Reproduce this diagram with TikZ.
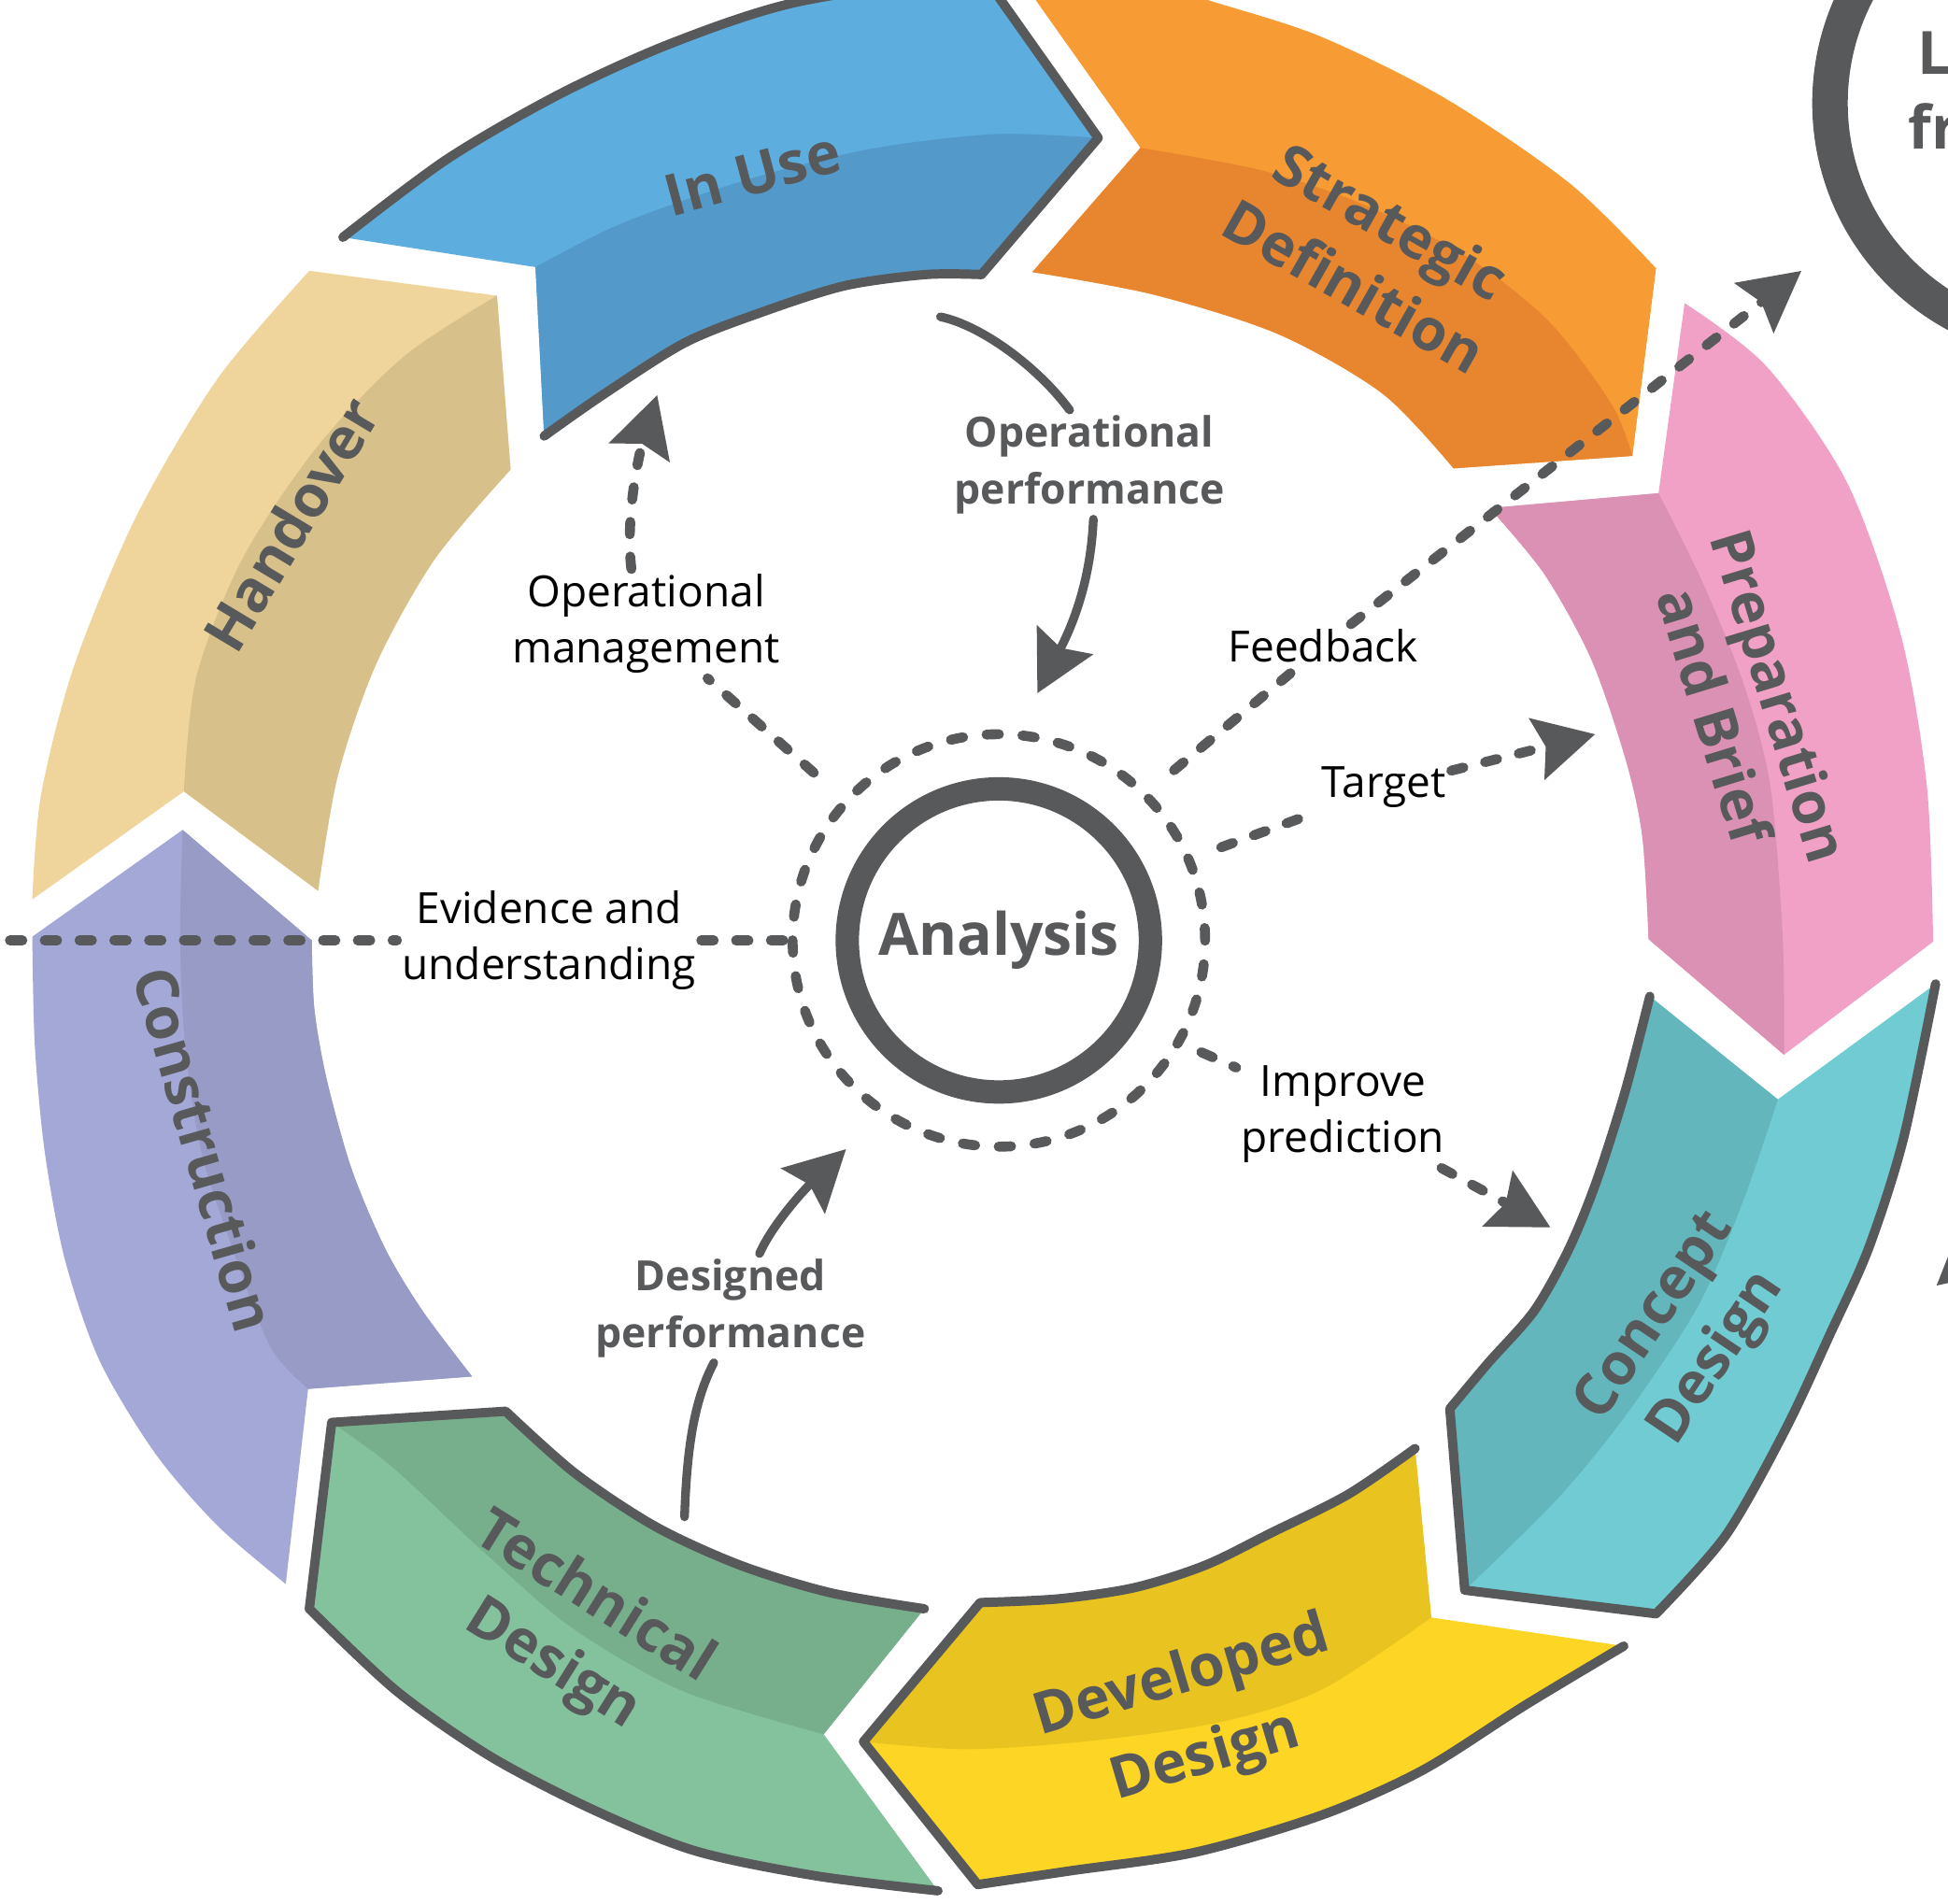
\documentclass[tikz,border=0pt]{standalone}
\usepackage{fontspec}
\setmainfont{Open Sans}
\usetikzlibrary{arrows.meta}
\definecolor{dgray}{HTML}{58595B}
\definecolor{tanL}{HTML}{EFD59B}\definecolor{tanD}{HTML}{D8C08B}
\definecolor{bluL}{HTML}{5DADDF}\definecolor{bluD}{HTML}{5399C9}
\definecolor{orL}{HTML}{F79C34}\definecolor{orD}{HTML}{E8862F}
\definecolor{piL}{HTML}{F1A1C6}\definecolor{piD}{HTML}{DA91B3}
\definecolor{teL}{HTML}{70CBD3}\definecolor{teD}{HTML}{64B6BD}
\definecolor{yeL}{HTML}{FDD524}\definecolor{yeD}{HTML}{E9C31F}
\definecolor{grL}{HTML}{84C29D}\definecolor{grD}{HTML}{77AE8C}
\definecolor{puL}{HTML}{A3A8D6}\definecolor{puD}{HTML}{979BC5}
\begin{document}
\begin{tikzpicture}[x=1pt,y=-1pt,
  seglbl/.style={font=\fontsize{46.6}{#1}\selectfont\bfseries, text=dgray, inner sep=0pt, align=center},
  seglbl/.default=56,
  lbl/.style={font=\fontsize{34.6}{45}\selectfont, text=black, align=center, inner sep=4pt},
  blbl/.style={font=\fontsize{33.5}{46}\selectfont\bfseries, text=dgray, align=center, inner sep=4pt},
  solidconn/.style={draw=dgray, line width=7pt, line cap=round},
  dashconn/.style={draw=dgray, line width=8pt, line cap=round, dash pattern=on 10pt off 18pt},
  tipst/.style={-{Stealth[length=48pt,width=50pt,inset=7pt]}},
  outl/.style={draw=dgray, line width=7.5pt, line join=round, line cap=round},
]
\fill[white] (0,0) rectangle (1568,1532);
\useasboundingbox (0,0) rectangle (1568,1532);

% ---------- Handover ----------
\fill[tanL] (26,724) -- (148,637) -- plot[smooth] coordinates {(256,717) (272,624) (303,534) (350,450) (411,378)} -- (400,238) -- plot[smooth] coordinates {(249,218) (175,305) (110,415) (60,535) (33,640) (26,724)} -- cycle;
\fill[tanD] (148,637) -- plot[smooth] coordinates {(148,637) (158,545) (195,450) (255,360) (325,287) (400,238)} -- plot[smooth] coordinates {(411,378) (350,450) (303,534) (272,624) (256,717)} -- cycle;

% ---------- In Use ----------
\fill[bluL] (276,191) -- (431,215) -- plot[smooth] coordinates {(438,351) (485,318) (551,276) (614,251) (680,230) (745,221) (790,221)} -- (884,111) -- plot[smooth] coordinates {(790,-22) (640,2) (540,35) (450,76) (360,128) (276,191)} -- cycle;
\fill[bluD] (431,215) -- plot[smooth] coordinates {(431,215) (500,180) (600,145) (700,120) (800,108) (884,111)} -- plot[smooth] coordinates {(790,221) (745,221) (680,230) (614,251) (551,276) (485,318) (438,351)} -- cycle;
\draw[outl] plot[smooth] coordinates {(438,351) (485,318) (551,276) (614,251) (680,230) (745,221) (790,221)} -- (884,111) -- plot[smooth] coordinates {(790,-22) (640,2) (540,35) (450,76) (360,128) (276,191)};

% ---------- Strategic Definition ----------
\fill[orL] (818,-22) -- (918,119) -- plot[smooth] coordinates {(831,219) (928,237) (1029,269) (1113,317) (1170,377)} -- (1314,367) -- plot[smooth] coordinates {(1333,216) (1264,148) (1163,79) (1062,29) (972,0) (935,-12)} -- cycle;
\fill[orD] (918,119) -- plot[smooth] coordinates {(918,119) (1015,137) (1096,164) (1180,206) (1247,259) (1297,325) (1314,367)} -- plot[smooth] coordinates {(1170,377) (1113,317) (1029,269) (928,237) (831,219)} -- cycle;

% ---------- Preparation and Brief ----------
\fill[piL] (1356,244) -- (1335,397) -- plot[smooth] coordinates {(1199,409) (1243,462) (1281,531) (1309,613) (1322,674) (1327,756)} -- (1436,849) -- plot[smooth] coordinates {(1556,758) (1551,633) (1530,511) (1487,389) (1422,295) (1356,244)} -- cycle;
\fill[piD] (1335,397) -- plot[smooth] coordinates {(1335,397) (1371,470) (1404,552) (1425,633) (1435,756) (1436,849)} -- plot[smooth] coordinates {(1327,756) (1322,674) (1309,613) (1281,531) (1243,462) (1199,409)} -- cycle;

% ---------- Concept Design ----------
\fill[teL] (1558,792) -- (1431,885) -- plot[smooth] coordinates {(1328,802) (1308,879) (1285,951) (1263,1005) (1235,1055) (1198,1097) (1167,1134)} -- (1179,1280) -- plot[smooth] coordinates {(1333,1299) (1389,1236) (1437,1151) (1473,1074) (1504,1005) (1532,917) (1558,792)} -- cycle;
\fill[teD] (1431,885) -- plot[smooth] coordinates {(1431,885) (1403,967) (1367,1051) (1311,1136) (1255,1205) (1179,1280)} -- plot[smooth] coordinates {(1167,1134) (1198,1097) (1235,1055) (1263,1005) (1285,951) (1308,879) (1328,802)} -- cycle;
\draw[outl] plot[smooth] coordinates {(1328,802) (1308,879) (1285,951) (1263,1005) (1235,1055) (1198,1097) (1167,1134)} -- (1179,1280) -- plot[smooth] coordinates {(1333,1299) (1389,1236) (1437,1151) (1473,1074) (1504,1005) (1532,917) (1558,792)};

% ---------- Developed Design ----------
\fill[yeL] (1307,1325) -- (1152,1302) -- plot[smooth] coordinates {(1139,1166) (1085,1203) (1023,1234) (970,1260) (913,1278) (852,1287) (789,1290)} -- (695,1402) -- plot[smooth] coordinates {(787,1517) (861,1506) (962,1491) (1064,1461) (1145,1425) (1227,1373) (1307,1325)} -- cycle;
\fill[yeD] (1152,1302) -- plot[smooth] coordinates {(1152,1302) (1064,1360) (983,1386) (881,1401) (779,1408) (695,1402)} -- plot[smooth] coordinates {(789,1290) (852,1287) (913,1278) (970,1260) (1023,1234) (1085,1203) (1139,1166)} -- cycle;
\draw[outl] plot[smooth] coordinates {(1139,1166) (1085,1203) (1023,1234) (970,1260) (913,1278) (852,1287) (789,1290)} -- (695,1402) -- plot[smooth] coordinates {(787,1517) (861,1506) (962,1491) (1064,1461) (1145,1425) (1227,1373) (1307,1325)};

% ---------- Technical Design ----------
\fill[grL] (755,1522) -- (663,1396) -- plot[smooth] coordinates {(744,1295) (668,1282) (596,1260) (528,1229) (463,1186) (407,1136)} -- (267,1145) -- plot[smooth] coordinates {(249,1295) (319,1361) (395,1414) (478,1457) (560,1490) (657,1510) (755,1522)} -- cycle;
\fill[grD] (663,1396) -- plot[smooth] coordinates {(663,1396) (549,1361) (460,1310) (388,1248) (316,1181) (267,1145)} -- plot[smooth] coordinates {(407,1136) (463,1186) (528,1229) (596,1260) (668,1282) (744,1295)} -- cycle;
\draw[outl] plot[smooth] coordinates {(744,1295) (668,1282) (596,1260) (528,1229) (463,1186) (407,1136)} -- (267,1145) -- plot[smooth] coordinates {(249,1295) (319,1361) (395,1414) (478,1457) (560,1490) (657,1510) (755,1522)};

% ---------- Construction ----------
\fill[puL] (230,1275) -- (248,1118) -- plot[smooth] coordinates {(380,1108) (340,1055) (310,1005) (283,941) (263,869) (253,812) (251,757)} -- (147,668) -- plot[smooth] coordinates {(26,754) (28,841) (36,927) (52,1013) (80,1095) (125,1170) (175,1228) (230,1275)} -- cycle;
\fill[puD] (248,1118) -- plot[smooth] coordinates {(248,1118) (218,1085) (190,1013) (162,927) (149,841) (145,754) (147,668)} -- plot[smooth] coordinates {(251,757) (253,812) (263,869) (283,941) (310,1005) (340,1055) (380,1108)} -- cycle;

% ---------- segment labels ----------
\node[seglbl, rotate=59] (tHand) at (234,422) {Handover};
\node[seglbl, rotate=15] (tUse) at (606,140) {In Use};
\node[seglbl=60, rotate=-29.5] (tStr) at (1105,204) {Strategic\\Definition};
\node[seglbl=55, rotate=-73] (tPrep) at (1407,568) {Preparation\\and Brief};
\node[seglbl=60, rotate=56] (tCon) at (1358,1077) {Concept\\Design};
\node[seglbl=67, rotate=16.5] (tDev) at (961,1383) {Developed\\Design};
\node[seglbl=63, rotate=-32] (tTech) at (461,1314) {Technical\\Design};
\node[seglbl, rotate=-74] (tConstr) at (165,925) {Construction};

% ---------- top-right partial ring ----------
\node[circle, draw=dgray, line width=28.6pt, minimum size=386pt, inner sep=0pt] (lfring) at (1666,83) {};
\node[anchor=base west, inner sep=0pt, font=\fontsize{48}{58}\selectfont\bfseries, text=dgray] (lf1) at (1543,60) {Le};
\node[anchor=base west, inner sep=0pt, font=\fontsize{48}{58}\selectfont\bfseries, text=dgray] (lf2) at (1536,120) {fr};
\fill[dgray] (1558.8,1034.8) -- (1580,981) -- (1585,1029) -- cycle;

% ---------- centre ----------
\node[circle, draw=dgray, line width=18.8pt, minimum size=244pt, inner sep=0pt, text=dgray,
      font=\fontsize{47}{56}\selectfont\bfseries] (an) at (804,757) {Analysis};
\node[circle, draw=dgray, line width=8pt, line cap=round, dash pattern=on 10pt off 18.97pt,
      minimum size=332pt, inner sep=0pt] (dc) at (804,757) {};

% ---------- labels ----------
\node[blbl] (opperf) at (877,374) {Operational\\performance};
\node[lbl] (opman) at (520,502) {Operational\\management};
\node[lbl] (evid) at (442,757) {Evidence and\\understanding};
\node[blbl] (desp) at (588,1053) {Designed\\performance};
\node[lbl] (fb) at (1065,520) {Feedback};
\node[lbl] (tg) at (1114,634) {Target};
\node[lbl] (ip) at (1081,897) {Improve\\prediction};

% ---------- free ends ----------
\coordinate (opA) at (757,255);
\coordinate (tipA) at (835,558);
\coordinate (omS) at (655,622);
\coordinate (tipB) at (529,318);
\coordinate (evL) at (-20,757);
\coordinate (dpS) at (551,1221);
\coordinate (tipD) at (681,925);
\coordinate (fbS) at (945,620);
\coordinate (tipE) at (1450,218);
\coordinate (tgS) at (983,682);
\coordinate (tipF) at (1284,591);
\coordinate (ipS) at (967,847);
\coordinate (tipG) at (1248,988);

% ---------- connectors ----------
\draw[solidconn] (opA) .. controls (790,262) and (835,295) .. (opperf.110);
\draw[solidconn, tipst] (opperf.-86) .. controls (878,465) and (865,500) .. (tipA);

\draw[dashconn] (omS) -- (opman);
\draw[dashconn, tipst] (opman.105) .. controls (503,415) and (515,363) .. (tipB);

\draw[dashconn] (evL) -- (evid);
\draw[dashconn] (evid) -- (dc);

\draw[solidconn] (dpS) .. controls (553,1160) and (560,1125) .. (desp.-107);
\draw[solidconn, tipst] (desp.62) .. controls (622,985) and (648,957) .. (tipD);

\draw[dashconn] (fbS) -- (fb);
\draw[dashconn, tipst] (fb) -- (tipE);

\draw[dashconn] (tgS) -- (tg);
\draw[dashconn, tipst] (tg) -- (tipF);

\draw[dashconn] (ipS) -- (ip);
\draw[dashconn, tipst] (ip) -- (tipG);
\end{tikzpicture}
\end{document}
